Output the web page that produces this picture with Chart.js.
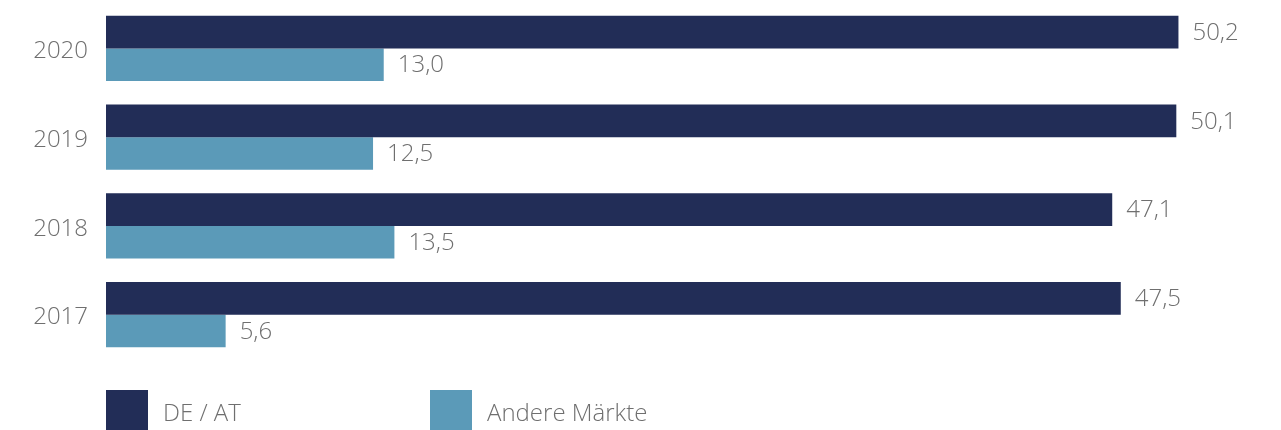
<!DOCTYPE html>
<html>
<head>
<meta charset="utf-8">
<script src="https://cdn.jsdelivr.net/npm/chart.js@4"></script>
<style>
  html, body { margin: 0; padding: 0; background: #fff; }
  #wrap { width: 1281px; height: 430px; }
</style>
</head>
<body>
<div id="wrap"><canvas id="barChart" width="1281" height="430"></canvas></div>
<script>
const years = ["2020", "2019", "2018", "2017"];
const deAt = [50.2, 50.1, 47.1, 47.5];
const andereMaerkte = [13.0, 12.5, 13.5, 5.6];
const seriesNames = ["DE / AT", "Andere Märkte"];

const FONT = '"Open Sans", sans-serif';
const TEXT_GRAY = "#6f6f6f";

function fmt(v) {
  return v.toFixed(1).replace(".", ",");
}

// value labels right of each bar
const valueLabels = {
  id: "valueLabels",
  afterDatasetsDraw(chart) {
    const ctx = chart.ctx;
    ctx.save();
    ctx.font = "300 24px " + FONT;
    ctx.fillStyle = TEXT_GRAY;
    ctx.textAlign = "left";
    ctx.textBaseline = "middle";
    chart.data.datasets.forEach((ds, i) => {
      chart.getDatasetMeta(i).data.forEach((bar, j) => {
        ctx.fillText(fmt(ds.data[j]), bar.x + 14, bar.y + 1);
      });
    });
    ctx.restore();
  }
};

// legend at the bottom, big squares
const bottomLegend = {
  id: "bottomLegend",
  afterDraw(chart) {
    const ctx = chart.ctx;
    const left = chart.chartArea.left;
    const steps = [0, 324];
    ctx.save();
    ctx.font = "300 24px " + FONT;
    ctx.textBaseline = "middle";
    chart.data.datasets.forEach((ds, i) => {
      const x = left + steps[i];
      ctx.fillStyle = ds.backgroundColor;
      ctx.fillRect(x, 390, 42, 42);
      ctx.fillStyle = TEXT_GRAY;
      ctx.fillText(ds.label, x + 57, 414);
    });
    ctx.restore();
  }
};

const ctx = document.getElementById("barChart").getContext("2d");
new Chart(ctx, {
  type: "bar",
  data: {
    labels: years,
    datasets: [
      {
        label: seriesNames[0],
        data: deAt,
        backgroundColor: "#222d57",
        categoryPercentage: 0.733,
        barPercentage: 1.0
      },
      {
        label: seriesNames[1],
        data: andereMaerkte,
        backgroundColor: "#5b9ab8",
        categoryPercentage: 0.733,
        barPercentage: 1.0
      }
    ]
  },
  options: {
    indexAxis: "y",
    responsive: false,
    animation: false,
    layout: { padding: { top: 4, bottom: 71, left: 0, right: 0 } },
    plugins: {
      legend: { display: false },
      tooltip: { enabled: false }
    },
    scales: {
      x: {
        display: false,
        min: 0,
        max: 55
      },
      y: {
        grid: { display: false, drawTicks: false },
        border: { display: false },
        ticks: {
          padding: 18,
          labelOffset: 3,
          color: TEXT_GRAY,
          font: { family: FONT, size: 24, weight: 300 }
        },
        afterFit(scale) {
          scale.width = 106;
          scale.paddingTop = 0;
          scale.paddingBottom = 0;
        }
      }
    }
  },
  plugins: [valueLabels, bottomLegend]
});
</script>
</body>
</html>
